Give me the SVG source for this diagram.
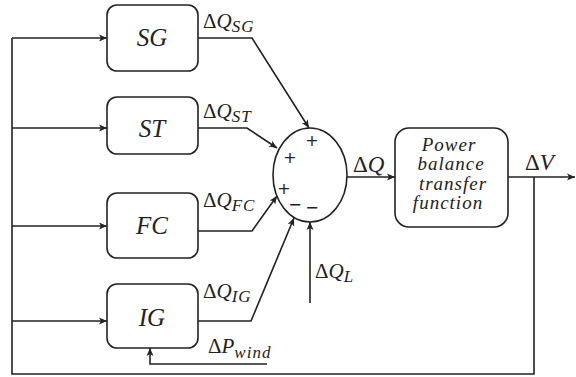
<svg xmlns="http://www.w3.org/2000/svg" width="576" height="377" viewBox="0 0 576 377">
<style>
.box{fill:#fff;stroke:#222;stroke-width:1.6}
.ln{fill:none;stroke:#222;stroke-width:1.6}
.t{font-family:"Liberation Serif","DejaVu Serif",serif;fill:#222}
.bl{font-size:25px;font-style:italic}
.lab{font-size:21px}
.it{font-style:italic}
.sub{font-size:17px;font-style:italic;letter-spacing:1px}
.sg{font-family:"DejaVu Sans",sans-serif;font-size:16px;fill:#222}
.pw{font-size:19px;font-style:italic;letter-spacing:1px}
</style>
<defs>
<marker id="ar" markerUnits="userSpaceOnUse" markerWidth="9" markerHeight="8" refX="8" refY="4" orient="auto">
<path d="M0,0.5 L8,4 L0,7.5 L2,4 z" fill="#222"/>
</marker>
</defs>
<g id="connectors">
<path class="ln" d="M12,38 V374 H534 V177"/>
<path class="ln" d="M12,38 H107" marker-end="url(#ar)"/>
<path class="ln" d="M12,128 H107" marker-end="url(#ar)"/>
<path class="ln" d="M12,226 H107" marker-end="url(#ar)"/>
<path class="ln" d="M12,321 H107" marker-end="url(#ar)"/>
<path class="ln" d="M198,38 H252 L309,128" marker-end="url(#ar)"/>
<path class="ln" d="M198,128 H247 L277,148" marker-end="url(#ar)"/>
<path class="ln" d="M198,231 H252 L277,196" marker-end="url(#ar)"/>
<path class="ln" d="M198,321 H251 L294,218" marker-end="url(#ar)"/>
<path class="ln" d="M310,303 V222" marker-end="url(#ar)"/>
<path class="ln" d="M267,364 H150 V348" marker-end="url(#ar)"/>
<path class="ln" d="M347,177 H395" marker-end="url(#ar)"/>
<path class="ln" d="M508,177 H575" marker-end="url(#ar)"/>
</g>
<g id="SG"><rect class="box" x="107" y="5" width="91" height="66" rx="10"/><text class="t bl" x="152" y="46" text-anchor="middle">SG</text></g>
<g id="ST"><rect class="box" x="107" y="97" width="91" height="57" rx="10"/><text class="t bl" x="152" y="137" text-anchor="middle">ST</text></g>
<g id="FC"><rect class="box" x="107" y="193" width="91" height="65" rx="10"/><text class="t bl" x="152" y="234" text-anchor="middle">FC</text></g>
<g id="IG"><rect class="box" x="107" y="284" width="91" height="64" rx="10"/><text class="t bl" x="152" y="326" text-anchor="middle">IG</text></g>
<g id="sum">
<ellipse class="box" cx="310" cy="175" rx="37" ry="47"/>
<text class="sg" x="312" y="146" text-anchor="middle">+</text>
<text class="sg" x="290" y="163" text-anchor="middle">+</text>
<text class="sg" x="284" y="194" text-anchor="middle">+</text>
<text class="sg" x="295" y="210" text-anchor="middle">−</text>
<text class="sg" x="312" y="213" text-anchor="middle">−</text>
</g>
<g id="power">
<rect class="box" x="395" y="128" width="113" height="99" rx="14"/>
<text class="t pw" x="449" y="151" text-anchor="middle">Power</text>
<text class="t pw" x="451" y="170" text-anchor="middle">balance</text>
<text class="t pw" x="453" y="190" text-anchor="middle">transfer</text>
<text class="t pw" x="448" y="209" text-anchor="middle">function</text>
</g>
<g id="labels">
<text class="t lab" x="203" y="28">Δ<tspan class="it">Q</tspan><tspan class="sub" dy="4">SG</tspan></text>
<text class="t lab" x="203" y="118">Δ<tspan class="it">Q</tspan><tspan class="sub" dy="4">ST</tspan></text>
<text class="t lab" x="203" y="207">Δ<tspan class="it">Q</tspan><tspan class="sub" dy="4">FC</tspan></text>
<text class="t lab" x="203" y="298">Δ<tspan class="it">Q</tspan><tspan class="sub" dy="4">IG</tspan></text>
<text class="t lab" x="208" y="353">Δ<tspan class="it">P</tspan><tspan class="sub" dy="5">wind</tspan></text>
<text class="t" x="353" y="172" font-size="23">Δ<tspan class="it">Q</tspan></text>
<text class="t" x="525" y="170" font-size="23">Δ<tspan class="it">V</tspan></text>
<text class="t lab" x="315" y="278">Δ<tspan class="it">Q</tspan><tspan class="sub" dy="4">L</tspan></text>
</g>
</svg>
